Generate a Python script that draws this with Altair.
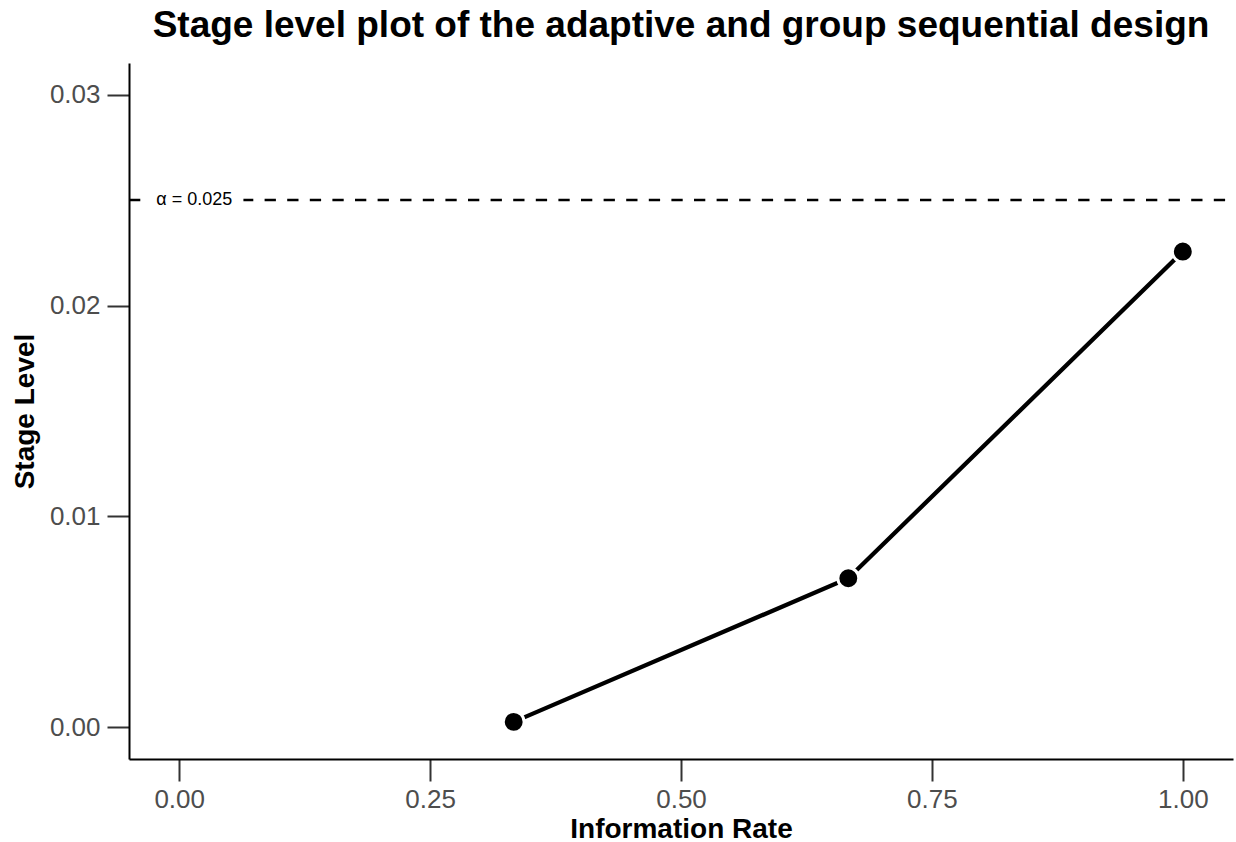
import altair as alt
import pandas as pd

# ---- data ----
info_rate = [0.3333, 0.6667, 1.0]
stage_level = [0.00026, 0.00707, 0.02256]
alpha_level = 0.025
alpha_label = "α = 0.025"
alpha_label_x = 0.015
alpha_box_x = [-0.033, 0.064]
alpha_box_y = [0.02443, 0.02557]
x_ticks = [0.0, 0.25, 0.50, 0.75, 1.0]
y_ticks = [0.0, 0.01, 0.02, 0.03]
x_domain = [-0.05, 1.05]
y_domain = [-0.0015, 0.0315]

title_text = "Stage level plot of the adaptive and group sequential design"
x_title = "Information Rate"
y_title = "Stage Level"

FONT = "Liberation Sans"
W, H = 1104, 696

df = pd.DataFrame({"rate": info_rate, "level": stage_level})
ref = pd.DataFrame({"x": [x_domain[0]], "x2": [x_domain[1]], "y": [alpha_level]})
lab = pd.DataFrame({
    "x": [alpha_label_x], "y": [alpha_level], "text": [alpha_label],
    "bx": [alpha_box_x[0]], "bx2": [alpha_box_x[1]],
    "by": [alpha_box_y[0]], "by2": [alpha_box_y[1]],
})

xscale = alt.Scale(domain=x_domain, nice=False, zero=False)
yscale = alt.Scale(domain=y_domain, nice=False, zero=False)

common_axis = dict(
    grid=False, domainColor="black", domainWidth=2,
    tickColor="#333333", tickWidth=2, tickSize=22,
    labelFontSize=26, labelColor="#4D4D4D", labelFont=FONT,
    titleFont=FONT, titleFontSize=28, titleFontWeight="bold", titleColor="black",
    titleBaseline="alphabetic", labelFlush=False, labelOverlap=False, format=".2f",
)
xaxis = alt.Axis(values=x_ticks, title=x_title, labelPadding=5, titleY=78, titleX=W / 2, **common_axis)
yaxis = alt.Axis(values=y_ticks, title=y_title, labelPadding=7, titleX=-96, titleY=H / 2, titleAngle=270, **common_axis)

base = alt.Chart(df)

rule = alt.Chart(ref).mark_rule(color="black", strokeWidth=2.5, strokeDash=[11.3, 11.3]).encode(
    x=alt.X("x:Q", scale=xscale, axis=xaxis),
    x2="x2:Q",
    y=alt.Y("y:Q", scale=yscale, axis=yaxis),
)
box = alt.Chart(lab).mark_rect(color="white").encode(
    x=alt.X("bx:Q", scale=xscale, axis=xaxis),
    x2="bx2:Q",
    y=alt.Y("by:Q", scale=yscale, axis=yaxis),
    y2="by2:Q",
)
txt = alt.Chart(lab).mark_text(font=FONT, fontSize=18, color="black", align="center", baseline="middle").encode(
    x=alt.X("x:Q", scale=xscale, axis=xaxis),
    y=alt.Y("y:Q", scale=yscale, axis=yaxis),
    text="text:N",
)
line = base.mark_line(color="black", strokeWidth=4.3).encode(
    x=alt.X("rate:Q", scale=xscale, axis=xaxis),
    y=alt.Y("level:Q", scale=yscale, axis=yaxis),
)
pts = base.mark_circle(size=437, color="black", stroke="white", strokeWidth=3, opacity=1).encode(
    x=alt.X("rate:Q", scale=xscale, axis=xaxis),
    y=alt.Y("level:Q", scale=yscale, axis=yaxis),
)

chart = alt.layer(rule, box, txt, line, pts).properties(
    width=W, height=H,
    title=alt.TitleParams(
        text=title_text, font=FONT, fontSize=37, fontWeight="bold", color="black",
        anchor="middle", frame="group", baseline="alphabetic", offset=-11,
    ),
    autosize=alt.AutoSizeParams(type="none"),
    padding={"left": 129, "top": 63, "right": 3, "bottom": 83},
    background="white",
).configure_view(stroke=None)

chart.save("out.html", embed_options={"renderer": "svg", "actions": False})
